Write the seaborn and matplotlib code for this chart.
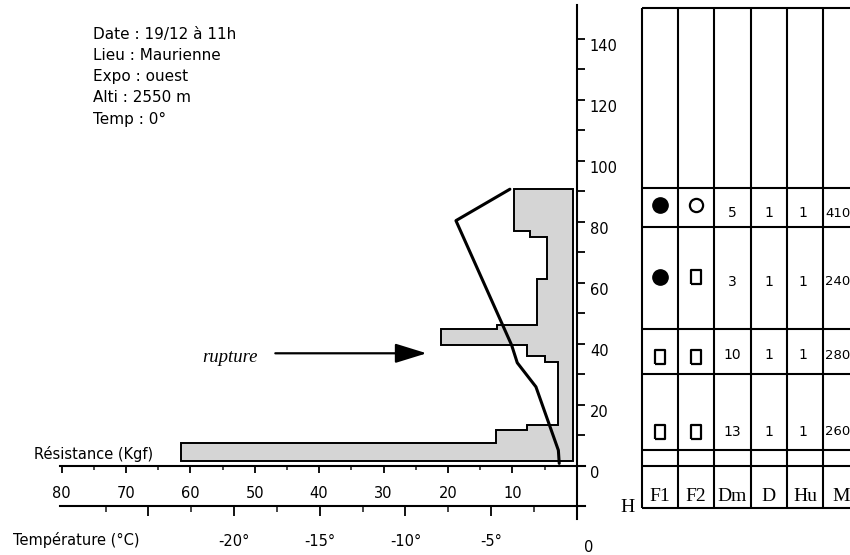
import numpy as np
import matplotlib
matplotlib.use("Agg")
import matplotlib.pyplot as plt
from matplotlib.path import Path
import seaborn as sns

# ----------------------------
# data
# ----------------------------
info_lines = ["Date : 19/12 à 11h", "Lieu : Maurienne", "Expo : ouest",
              "Alti : 2550 m", "Temp : 0°"]

# ram resistance: layer limits (cm) and resistance of each layer (kgf)
layer_limits = [1.5, 7.5, 11.6, 13.3, 34, 35.9, 39.5, 44.7, 46, 61, 75, 77, 90.6]
resistance = [61.5, 12.5, 7.7, 2.9, 5.0, 7.7, 21.0, 12.3, 6.2, 4.6, 7.3, 9.8]
profile_base = 0.6

# temperature profile (cm, °C)
temp_height = [90.6, 80.3, 39.5, 33.7, 25.8, 5, 0.7]
temp_value = [-3.9, -7.05, -3.8, -3.47, -2.38, -1.07, -1.02]

# stratigraphy table
row_bounds = [150, 91, 78.3, 44.8, 30, 5, 0, -14]
columns = ["F1", "F2", "Dm", "D", "Hu", "M"]
row_symbol_h = [85.4, 61.9, 35.7, 11.1]
row_text_h = [82.7, 60.3, 36.2, 11.1]
f1 = ["full", "full", "square", "square"]
f2 = ["open", "square", "square", "square"]
dm = ["5", "3", "10", "13"]
d = ["1", "1", "1", "1"]
hu = ["1", "1", "1", "1"]
m = ["410", "240", "280", "260"]

# ----------------------------
# figure geometry (pixels)
# ----------------------------
W, H = 850, 555
px_res = 6.44      # px per kgf
px_temp = 17.13    # px per °C
k = px_res / px_temp
x0 = 576.7         # vertical axis
xlim = (80.3, -1.3)
ylim = (-17.5, 151)
y_bot, y_top = 518.9, 5.0

sns.set_theme(style="white")
plt.rcParams["font.family"] = ["DejaVu Sans"]
plt.rcParams["text.color"] = "black"
fig = plt.figure(figsize=(W / 100, H / 100), dpi=100)

left = (x0 - xlim[0] * px_res) / W
width = (xlim[0] - xlim[1]) * px_res / W
bottom = (H - y_bot) / H
height = (y_bot - y_top) / H
ax = fig.add_axes([left, bottom, width, height])
ax_t = ax.twiny()

# resistance profile
px_, py_ = [profile_base], [layer_limits[0]]
for i, r in enumerate(resistance):
    px_ += [r, r]
    py_ += [layer_limits[i], layer_limits[i + 1]]
px_.append(profile_base)
py_.append(layer_limits[-1])
ax.fill(px_, py_, facecolor="#d5d5d5", edgecolor="black", lw=1.4, zorder=2)

# temperature profile
sns.lineplot(x=temp_value, y=temp_height, orient="y", sort=False, estimator=None,
             ax=ax_t, color="black", lw=2.2)

ax.set_xlim(*xlim)
ax.set_ylim(*ylim)
ax_t.set_xlim(-xlim[0] * k, -xlim[1] * k)
ax_t.set_ylim(*ylim)

# resistance axis + height axis
for s in ["top", "left"]:
    ax.spines[s].set_visible(False)
ax.spines["bottom"].set_position(("data", 0))
ax.spines["right"].set_position(("data", 0))
for s in ["bottom", "right"]:
    ax.spines[s].set_linewidth(1.5)
    ax.spines[s].set_color("black")
ax.xaxis.tick_bottom()
ax.yaxis.tick_right()
ax.set_xticks(np.arange(10, 81, 10))
ax.set_xticks(np.arange(5, 80, 10), minor=True)
ax.set_yticks(np.arange(0, 141, 20))
ax.set_yticks(np.arange(10, 141, 20), minor=True)
ax.tick_params(axis="x", which="major", direction="out", length=5, width=1.3,
               pad=9.5, labelsize=10.5, colors="black")
ax.tick_params(axis="x", which="minor", direction="out", length=3, width=1.2)
ax.tick_params(axis="y", which="both", direction="out", length=6, width=1.3,
               pad=3.5, labelsize=10.5, colors="black")
for t in ax.yaxis.get_major_ticks():
    t.label2.set_va("top")
ax.grid(False)

# temperature axis
for s in ["top", "left", "right"]:
    ax_t.spines[s].set_visible(False)
ax_t.spines["bottom"].set_position(("data", -13.2))
ax_t.spines["bottom"].set_linewidth(1.5)
ax_t.spines["bottom"].set_color("black")
ax_t.xaxis.tick_bottom()
ax_t.set_xticks([-25, -20, -15, -10, -5, 0])
ax_t.set_xticklabels(["", "-20°", "-15°", "-10°", "-5°", ""])
ax_t.set_xticks(np.arange(-27.5, 0, 5), minor=True)
ax_t.tick_params(axis="x", which="major", direction="out", length=7, width=1.3,
                 pad=13, labelsize=10.5, colors="black")
ax_t.tick_params(axis="x", which="minor", direction="out", length=4, width=1.2)
ax_t.grid(False)

# texts
for i, line in enumerate(info_lines):
    fig.text(92.7 / W, 1 - (35 + 21 * i) / H, line, fontsize=11, va="center")
fig.text(33.7 / W, 1 - 459.5 / H, "Résistance (Kgf)", fontsize=10.5, va="baseline")
fig.text(13 / W, 1 - 540 / H, "Température (°C)", fontsize=10.5, va="center")
fig.text(589 / W, 1 - 548 / H, "0", fontsize=10.5, va="center", ha="center")

ax.text(53.8, 35.3, "rupture", ha="center", va="center", fontsize=13.5,
        family="Liberation Serif", style="italic")
ax.annotate("", xy=(23.3, 36.8), xytext=(46.8, 36.8),
            arrowprops=dict(arrowstyle="-|>,head_length=0.97,head_width=0.3",
                            mutation_scale=20, lw=1.6, color="black",
                            shrinkA=0, shrinkB=0))

# ----------------------------
# stratigraphy table
# ----------------------------
col_w = 36.3
tab_left = 641.7
ax_tab = fig.add_axes([tab_left / W, bottom, (W - tab_left) / W, height])
xmax = (W - tab_left) / col_w
ax_tab.set_xlim(0, xmax)
ax_tab.set_ylim(*ylim)
ax_tab.set_axis_off()
ax_tab.hlines(row_bounds, 0, xmax, colors="black", lw=1.5, clip_on=False)
ax_tab.vlines(range(len(columns)), row_bounds[-1], row_bounds[0], colors="black",
              lw=1.5, clip_on=False)

rect = Path([(-0.38, -0.5), (0.38, -0.5), (0.38, 0.5), (-0.38, 0.5), (-0.38, -0.5)])
marker_style = {
    "full": dict(marker="o", ms=11, mfc="black", mec="black", mew=1),
    "open": dict(marker="o", ms=9.5, mfc="white", mec="black", mew=1.6),
    "square": dict(marker=rect, ms=10, mfc="white", mec="black", mew=1.6),
}
for i in range(len(f1)):
    for col, kind in [(0, f1[i]), (1, f2[i])]:
        ax_tab.plot(col + 0.5, row_symbol_h[i], ls="none", **marker_style[kind])
    ax_tab.text(2.5, row_text_h[i], dm[i], ha="center", va="center", fontsize=10)
    ax_tab.text(3.5, row_text_h[i], d[i], ha="center", va="center", fontsize=10)
    ax_tab.text(4.45, row_text_h[i], hu[i], ha="center", va="center", fontsize=10)
    ax_tab.text(5.05, row_text_h[i], m[i], ha="left", va="center", fontsize=9.5)

for j, name in enumerate(columns):
    ax_tab.text(j + 0.5, -11.5, name, ha="center", va="baseline", fontsize=14,
                family="Liberation Serif")
ax_tab.text(-0.38, -15.1, "H", ha="center", va="baseline", fontsize=14,
            family="Liberation Serif")

fig.savefig("out.png", dpi=100)
